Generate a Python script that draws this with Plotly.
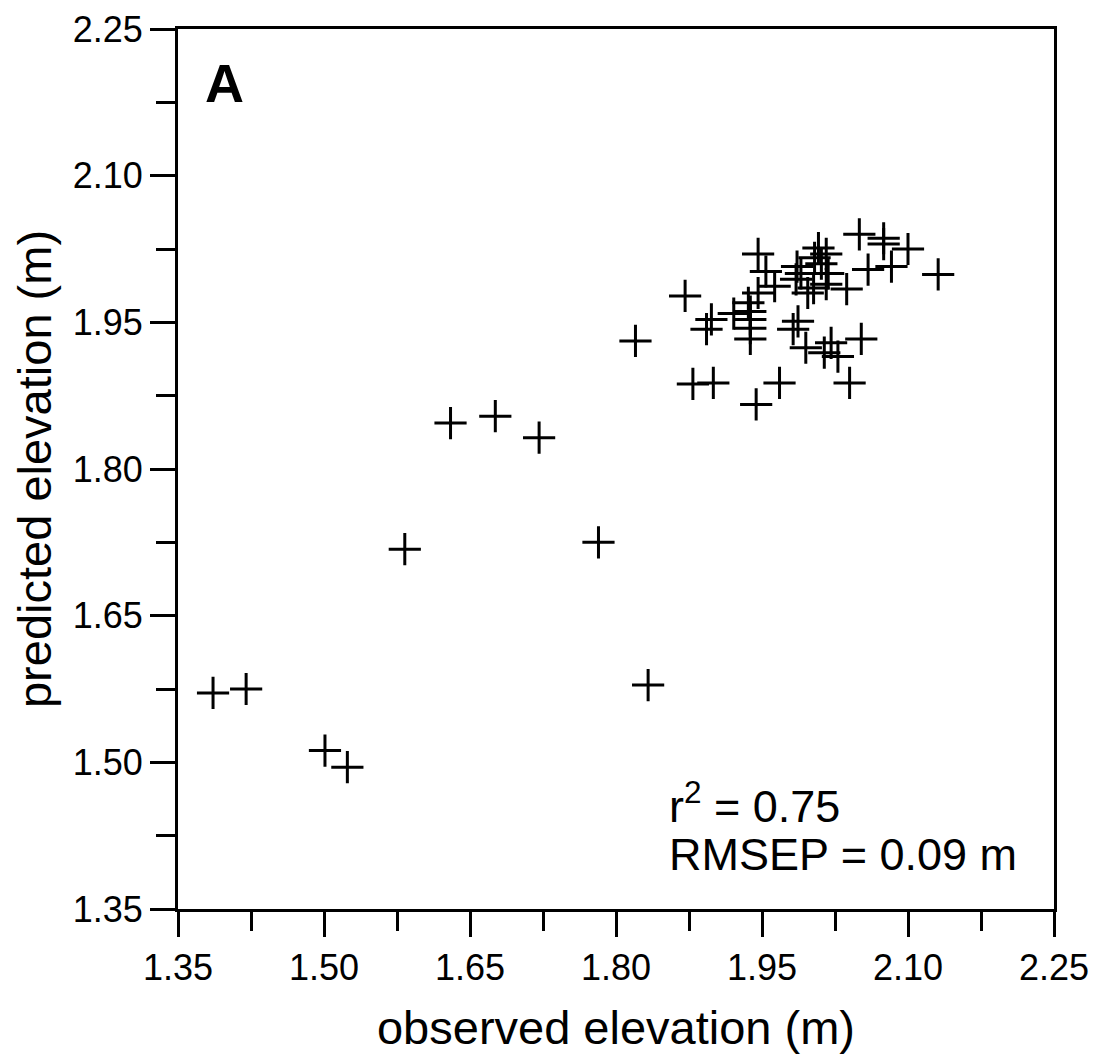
import plotly.graph_objects as go

# observed vs predicted elevation (m)
observed = [
    1.386, 1.420, 1.501, 1.524, 1.583, 1.630, 1.676, 1.721, 1.782, 1.833, 1.820,
    1.871, 1.879, 1.900, 1.893, 1.898, 1.921, 1.936, 1.946, 1.938, 1.938,
    1.938, 1.938, 1.946, 1.954, 1.963, 1.944, 1.968, 1.982, 1.987, 1.995,
    2.014, 2.021, 2.028, 2.052, 2.040, 1.986, 1.990, 1.985, 2.008, 2.016,
    2.004, 2.011, 2.018, 2.016, 1.997, 2.003, 2.037, 2.050, 2.075, 2.075,
    2.100, 2.059, 2.083, 2.131,
]
predicted = [
    1.571, 1.575, 1.512, 1.495, 1.718, 1.847, 1.854, 1.832, 1.725, 1.579, 1.931,
    1.977, 1.887, 1.888, 1.943, 1.953, 1.959, 1.970, 1.980, 1.961, 1.953,
    1.944, 1.933, 2.020, 2.002, 1.987, 1.866, 1.888, 1.943, 1.951, 1.924,
    1.919, 1.929, 1.915, 1.933, 1.888, 2.007, 2.000, 1.994, 2.026, 2.020,
    2.016, 2.010, 2.000, 1.989, 1.980, 1.985, 1.984, 2.040, 2.036, 2.030,
    2.025, 2.004, 2.007, 1.999,
]

tick_vals = [1.35, 1.50, 1.65, 1.80, 1.95, 2.10, 2.25]
tick_text = ["1.35", "1.50", "1.65", "1.80", "1.95", "2.10", "2.25"]

fig = go.Figure()
fig.add_trace(go.Scatter(
    x=observed, y=predicted, mode="markers",
    marker=dict(symbol="cross-thin", size=23,
                line=dict(color="black", width=3)),
    showlegend=False,
))

axis_style = dict(
    range=[1.35, 2.25],
    tickvals=tick_vals, ticktext=tick_text,
    showgrid=False, zeroline=False,
    showline=True, mirror=True, linecolor="black", linewidth=3,
    ticks="outside", ticklen=25, tickwidth=2.5, tickcolor="black",
    minor=dict(tickvals=[1.425, 1.575, 1.725, 1.875, 2.025, 2.175],
               ticks="outside", ticklen=19, tickwidth=2.5, tickcolor="black"),
    tickfont=dict(family="Liberation Sans, Arial", size=36, color="black"),
    automargin=False,
)

fig.update_xaxes(**axis_style,
                 title=dict(text="observed elevation (m)", standoff=24,
                            font=dict(family="Liberation Sans, Arial", size=47, color="black")))
fig.update_yaxes(**axis_style,
                 title=dict(text="predicted elevation (m)", standoff=24,
                            font=dict(family="Liberation Sans, Arial", size=47, color="black")))

fig.add_annotation(x=0.028, y=0.975, xref="paper", yref="paper",
                   text="<b>A</b>", showarrow=False, xanchor="left", yanchor="top",
                   font=dict(family="Liberation Sans, Arial", size=54, color="black"))
fig.add_annotation(x=0.558, y=0.121, xref="paper", yref="paper",
                   text="r<sup>2</sup> = 0.75", showarrow=False,
                   xanchor="left", yanchor="middle", align="left",
                   font=dict(family="Liberation Sans, Arial", size=45, color="black"))
fig.add_annotation(x=0.558, y=0.0625, xref="paper", yref="paper",
                   text="RMSEP = 0.09 m", showarrow=False,
                   xanchor="left", yanchor="middle", align="left",
                   font=dict(family="Liberation Sans, Arial", size=45, color="black"))

fig.update_layout(
    width=1102, height=1058,
    margin=dict(l=170, r=56, t=21, b=157, autoexpand=False),
    plot_bgcolor="white", paper_bgcolor="white",
)

fig.write_html("out.html")
